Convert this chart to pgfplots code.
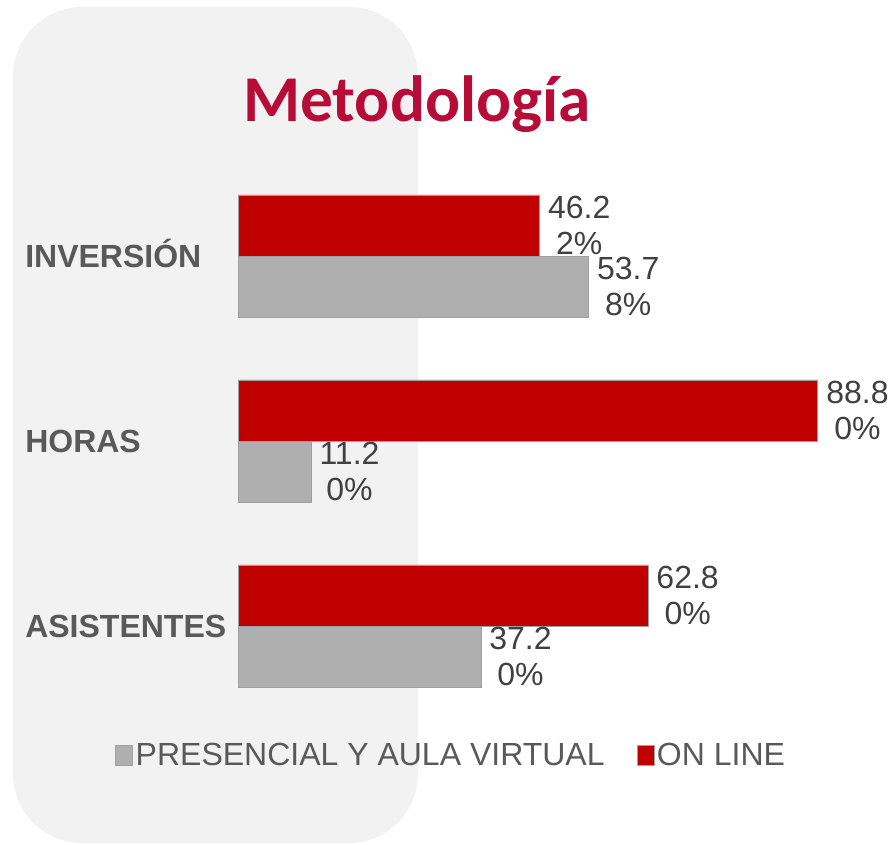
\documentclass[border=0pt]{standalone}
\usepackage{pgfplots}
\pgfplotsset{compat=1.18}
\usepackage{fontspec}
\setmainfont{Liberation Sans}
\newfontfamily\titlefont{Carlito}
\definecolor{titlered}{RGB}{183,12,56}
\definecolor{barred}{RGB}{192,0,0}
\definecolor{bargray}{RGB}{175,175,175}
\definecolor{bggray}{RGB}{242,242,242}
\definecolor{lbl}{RGB}{64,64,64}
\definecolor{catc}{RGB}{89,89,89}
\definecolor{edge}{RGB}{160,160,160}
\begin{document}
\begin{tikzpicture}
\path[use as bounding box] (0pt,0pt) rectangle (671.25pt,633pt);
\fill[bggray, rounded corners=52pt] (9.75pt,0.75pt) rectangle (313.5pt,627.75pt);
\begin{axis}[
  at={(178.5pt,94.125pt)}, anchor=south west,
  scale only axis, width=489.75pt, height=416.25pt,
  xmin=0, xmax=100, ymin=-0.5, ymax=2.5,
  xbar, bar width=0.33,
  clip=false,
  axis x line=none,
  axis y line*=left, y axis line style={draw=none},
  ytick={0,1,2}, yticklabels={ASISTENTES,HORAS,INVERSIÓN},
  major tick length=0pt,
  yticklabel style={anchor=west, inner sep=0pt, xshift=-159.75pt,
    font=\bfseries\fontsize{24}{28}\selectfont, text=catc,
    text height=17.2pt, text depth=0pt},
  point meta=explicit symbolic,
  nodes near coords,
  nodes near coords style={anchor=west, inner sep=0pt, xshift=6pt, align=center,
    font=\fontsize{24}{27.5}\selectfont, text=lbl},
  title={\titlefont\bfseries Metodología},
  title style={at={(0.274,1.0604)}, anchor=base, font=\fontsize{49}{55}\selectfont,
    text=titlered, inner sep=0pt},
  legend style={at={(0.327,-0.067)}, anchor=center, draw=none, fill=none,
    font=\fontsize{24}{28}\selectfont, text=catc,
    /tikz/every even column/.append style={column sep=22pt}},
  legend columns=2,
  legend cell align=left,
  legend image code/.code={\draw[#1,line width=0.5pt] (0pt,-7pt) rectangle (12.75pt,7.5pt);},
]
\addplot[fill=bargray, draw=edge, line width=0.6pt, bar shift=-0.165]
  coordinates {(37.2,0) [37.2\\0\%] (11.2,1) [11.2\\0\%] (53.7,2) [53.7\\8\%]};
\addlegendentry{PRESENCIAL Y AULA VIRTUAL}
\addplot[fill=barred, draw=edge, line width=0.6pt, bar shift=0.165]
  coordinates {(62.8,0) [62.8\\0\%] (88.8,1) [88.8\\0\%] (46.2,2) [46.2\\2\%]};
\addlegendentry{ON LINE}
\end{axis}
\end{tikzpicture}
\end{document}
